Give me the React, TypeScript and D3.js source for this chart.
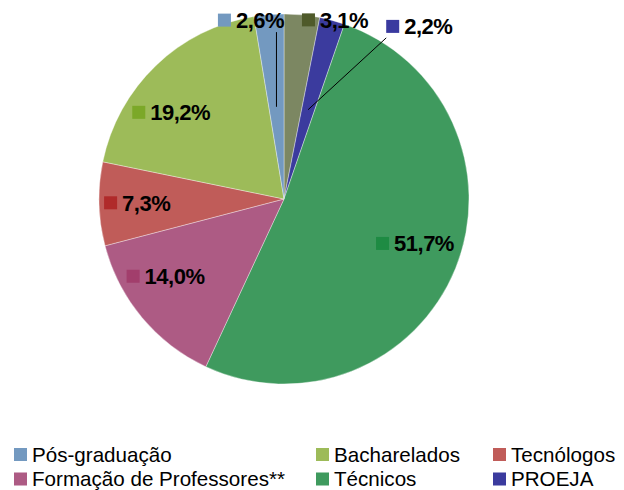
import React from "react";
import * as d3 from "d3";

// ---- data ----
const categories = [
  "Outros",
  "PROEJA",
  "Técnicos",
  "Formação de Professores**",
  "Tecnólogos",
  "Bacharelados",
  "Pós-graduação",
];
const values = [3.1, 2.2, 51.7, 14.0, 7.3, 19.2, 2.6];
const valueLabels = ["3,1%", "2,2%", "51,7%", "14,0%", "7,3%", "19,2%", "2,6%"];
const legendItems = [
  "Pós-graduação",
  "Bacharelados",
  "Tecnólogos",
  "Formação de Professores**",
  "Técnicos",
  "PROEJA",
];

// ---- styles ----
const sliceColors: Record<string, string> = {
  Outros: "#7C8762",
  PROEJA: "#3B3B9E",
  "Técnicos": "#3F9A5E",
  "Formação de Professores**": "#AD5B84",
  "Tecnólogos": "#C05C59",
  Bacharelados: "#9DBB59",
  "Pós-graduação": "#7399C0",
};
const markerColors: Record<string, string> = {
  Outros: "#4F5A2A",
  PROEJA: "#3A3A9F",
  "Técnicos": "#1E8B43",
  "Formação de Professores**": "#A23E6C",
  "Tecnólogos": "#B02A2A",
  Bacharelados: "#7BA828",
  "Pós-graduação": "#7399C0",
};

// label placement: relative to arc point at given radius factor
const labelPlacement: Record<string, { k: number; dx: number; dy: number; leader?: "v" | "corner" }> = {
  Outros: { k: 1, dx: 0, dy: 5 },
  PROEJA: { k: 1, dx: 54, dy: 6, leader: "corner" },
  "Técnicos": { k: 0.77, dx: -40, dy: -9 },
  "Formação de Professores**": { k: 0.77, dx: -48, dy: -14 },
  "Tecnólogos": { k: 0.77, dx: -37.5, dy: 0 },
  Bacharelados: { k: 0.77, dx: -53, dy: 16 },
  "Pós-graduação": { k: 1, dx: -51, dy: 5.5, leader: "v" },
};

const W = 624;
const H = 490;
const cx = 284;
const cy = 199;
const R = 185;
const FONT = "'Liberation Sans', Arial, sans-serif";

export default function App() {
  const data = categories.map((c, i) => ({ name: c, value: values[i], label: valueLabels[i] }));
  const pie = d3
    .pie<any>()
    .sort(null)
    .value((d: any) => d.value)
    .startAngle(0)
    .endAngle(2 * Math.PI);
  const arcs = pie(data);
  const arc = d3.arc<any>().innerRadius(0).outerRadius(R);

  const legendCols = [14, 316, 493];
  const legendRows = [448, 472.5];

  return (
    <svg
      width={W}
      height={H}
      style={{ position: "absolute", left: 0, top: 0, background: "#fff" }}
      fontFamily={FONT}
    >
      <g transform={`translate(${cx},${cy})`}>
        {arcs.map((a) => (
          <path
            key={a.data.name}
            d={arc(a) as string}
            fill={sliceColors[a.data.name]}
            stroke="#ffffff"
            strokeOpacity={0.6}
            strokeWidth={0.6}
          />
        ))}
      </g>
      {arcs.map((a) => {
        const p = labelPlacement[a.data.name];
        const la = d3.arc<any>().innerRadius(R * p.k).outerRadius(R * p.k);
        const [px, py] = la.centroid(a);
        const mx = cx + px + p.dx;
        const my = cy + py + p.dy;
        const half = 6.5;
        let leader: React.ReactNode = null;
        if (p.leader) {
          const ia = d3.arc<any>().innerRadius(R * 0.5).outerRadius(R * 0.5);
          const [ex, ey] = ia.centroid(a);
          const endX = cx + ex;
          const endY = cy + ey;
          if (p.leader === "v") {
            leader = <line x1={endX} y1={my + 12} x2={endX} y2={endY} stroke="#000" strokeWidth={1} />;
          } else {
            leader = <line x1={mx} y1={my + 11.5} x2={endX} y2={endY} stroke="#000" strokeWidth={1} />;
          }
        }
        return (
          <g key={"l" + a.data.name}>
            {leader}
            <rect x={mx} y={my - half} width={13} height={13} fill={markerColors[a.data.name]} />
            <text
              x={mx + 18}
              y={my + 8}
              fontSize={22}
              fontWeight="bold"
              fill="#000"
              letterSpacing={-0.5}
            >
              {a.data.label}
            </text>
          </g>
        );
      })}
      {legendItems.map((name, i) => {
        const col = i % 3;
        const row = Math.floor(i / 3);
        const x = legendCols[col];
        const y = legendRows[row];
        return (
          <g key={"lg" + name}>
            <rect x={x} y={y} width={13} height={13} fill={sliceColors[name]} />
            <text x={x + 18} y={y + 13.5} fontSize={20.6} fill="#000">
              {name}
            </text>
          </g>
        );
      })}
    </svg>
  );
}
